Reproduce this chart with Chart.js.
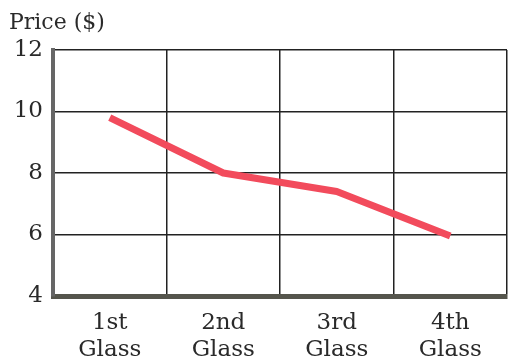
<!DOCTYPE html>
<html>
<head>
<meta charset="utf-8">
<script src="https://cdn.jsdelivr.net/npm/chart.js@4"></script>
<style>
  html, body { margin: 0; padding: 0; background: #fff; }
  #wrap { width: 508px; height: 364px; }
</style>
</head>
<body>
<div id="wrap"><canvas id="c" width="508" height="364"></canvas></div>
<script>
// Price of each successive glass
const categories = [['1st', 'Glass'], ['2nd', 'Glass'], ['3rd', 'Glass'], ['4th', 'Glass']];
const prices = [9.8, 8.0, 7.4, 5.95];
const yTicks = [4, 6, 8, 10, 12];
const axisTitle = 'Price ($)';

const serif = '"DejaVu Serif", "Liberation Serif", serif';

// Axis caption in the top-left corner
const captionPlugin = {
  id: 'caption',
  afterDraw(chart) {
    const ctx = chart.ctx;
    ctx.save();
    ctx.font = '22px ' + serif;
    ctx.fillStyle = '#2a2a2a';
    ctx.textAlign = 'left';
    ctx.textBaseline = 'alphabetic';
    ctx.fillText(axisTitle, 9, 29);
    ctx.restore();
  }
};

new Chart(document.getElementById('c'), {
  type: 'line',
  data: {
    labels: categories,
    datasets: [{
      data: prices,
      borderColor: '#f24b5c',
      borderWidth: 7,
      pointRadius: 0,
      tension: 0,
      borderCapStyle: 'butt',
      borderJoinStyle: 'round'
    }]
  },
  options: {
    responsive: false,
    animation: false,
    devicePixelRatio: 1,
    layout: { padding: { top: 50, right: 1, left: 0, bottom: 0 } },
    plugins: {
      legend: { display: false },
      tooltip: { enabled: false },
      title: { display: false }
    },
    scales: {
      x: {
        type: 'category',
        offset: true,
        grid: {
          offset: true,
          color: '#222',
          lineWidth: 1.5,
          drawTicks: false
        },
        border: { display: true, color: '#55554c', width: 5 },
        ticks: {
          color: '#2a2a2a',
          font: { family: serif, size: 23, lineHeight: 1.15 },
          padding: 14,
          maxRotation: 0,
          autoSkip: false
        },
        afterFit(scale) { scale.height = 68; }
      },
      y: {
        min: 4,
        max: 12,
        afterBuildTicks(scale) { scale.ticks = yTicks.map(v => ({ value: v })); },
        grid: {
          color: '#222',
          lineWidth: 1.5,
          drawTicks: false
        },
        border: { display: true, color: '#666', width: 4 },
        ticks: {
          color: '#2a2a2a',
          font: { family: serif, size: 23 },
          padding: 10
        },
        afterFit(scale) { scale.width = 53; }
      }
    }
  },
  plugins: [captionPlugin]
});
</script>
</body>
</html>
